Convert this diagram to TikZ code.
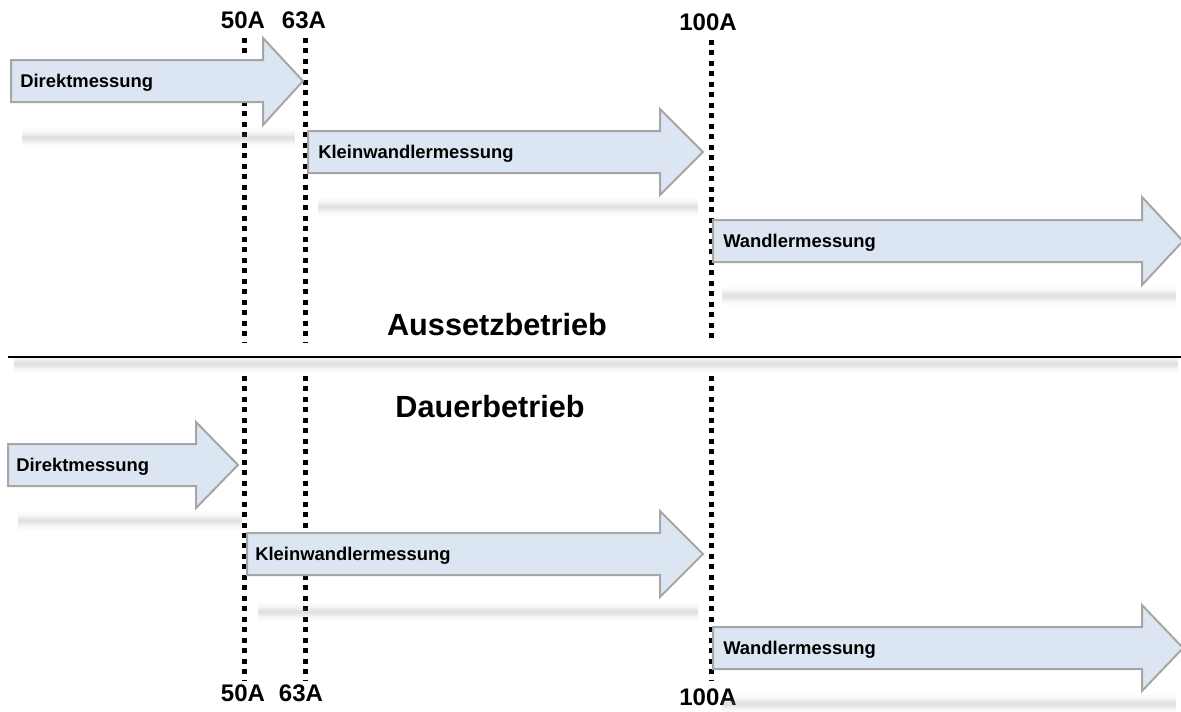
\documentclass[tikz,border=0pt]{standalone}
\usepackage{fontspec}
\setmainfont{Liberation Sans}
\usetikzlibrary{positioning}
\definecolor{bandfill}{HTML}{DCE6F2}
\definecolor{bandedge}{HTML}{A6A6A6}
\definecolor{streakgray}{HTML}{8C8C8C}

\begin{document}
\begin{tikzpicture}[
  x=0.75pt, y=-0.75pt,
  band/.style={fill=bandfill, draw=bandedge, line width=1.5pt, line join=miter},
  bandlabel/.style={anchor=base west, inner sep=0pt, font=\fontsize{13.8}{16}\selectfont\bfseries},
  ampere/.style={inner sep=0pt, font=\fontsize{18}{20}\selectfont\bfseries},
  mode/.style={inner sep=0pt, font=\fontsize{23}{26}\selectfont\bfseries},
  limit/.style={line width=3.75pt, dash pattern=on 3.75pt off 4.1pt},
  streak/.style={line cap=round,
    preaction={draw=streakgray, opacity=0.04, line width=13pt},
    preaction={draw=streakgray, opacity=0.06, line width=9pt},
    preaction={draw=streakgray, opacity=0.08, line width=5.5pt},
    preaction={draw=streakgray, opacity=0.10, line width=2.5pt}}
]
\useasboundingbox (0,0) rectangle (1181,711);

% current limits
\node[ampere] (a50top)  at (243,20) {50A};
\node[ampere] (a63top)  at (304,20) {63A};
\node[ampere] (a100top) at (708,22) {100A};
\node[ampere] (a50bot)  at (243,693) {50A};
\node[ampere] (a63bot)  at (301,693) {63A};
\node[ampere] (a100bot) at (708,697) {100A};

\draw[limit] (244,38) -- (244,342);
\draw[limit] (305,38) -- (305,342);
\draw[limit] (711,40) -- (711,342);
\draw[limit] (244,376) -- (244,680);
\draw[limit] (305,376) -- (305,680);
\draw[limit] (711,376) -- (711,680);

% separator
\path[streak] (14,364) -- (1178,364);
\draw[line width=1.3pt] (8,357) -- (1181,357);
\node[mode] (aussetz) at (497,325) {Aussetzbetrieb};
\node[mode] (dauer)   at (490,407) {Dauerbetrieb};

% Aussetzbetrieb
\path[streak] (22,138) -- (295,138);
\path[streak] (318,207) -- (698,207);
\path[streak] (722,296) -- (1176,296);

\draw[band] (11,60) -- (263,60) -- (263,38) -- (303,81) -- (263,125) -- (263,102) -- (11,102) -- cycle;
\node[bandlabel] (direkt1) at (20,87) {Direktmessung};

\draw[band] (308,131) -- (660,131) -- (660,109) -- (703,152) -- (660,195) -- (660,173) -- (308,173) -- cycle;
\node[bandlabel] (klein1) at (318,158) {Kleinwandlermessung};

\draw[band] (713,220) -- (1142,220) -- (1142,197) -- (1183,241) -- (1142,285) -- (1142,262) -- (713,262) -- cycle;
\node[bandlabel] (wandler1) at (723,247) {Wandlermessung};

% Dauerbetrieb
\path[streak] (18,521) -- (242,521);
\path[streak] (258,612) -- (698,612);
\path[streak] (722,704) -- (1176,704);

\draw[band] (8,444) -- (196,444) -- (196,422) -- (238,465) -- (196,508) -- (196,486) -- (8,486) -- cycle;
\node[bandlabel] (direkt2) at (16,471) {Direktmessung};

\draw[band] (247,533) -- (660,533) -- (660,511) -- (703,554) -- (660,597) -- (660,575) -- (247,575) -- cycle;
\node[bandlabel] (klein2) at (255,560) {Kleinwandlermessung};

\draw[band] (713,627) -- (1142,627) -- (1142,605) -- (1183,648) -- (1142,691) -- (1142,669) -- (713,669) -- cycle;
\node[bandlabel] (wandler2) at (723,654) {Wandlermessung};
\end{tikzpicture}
\end{document}
